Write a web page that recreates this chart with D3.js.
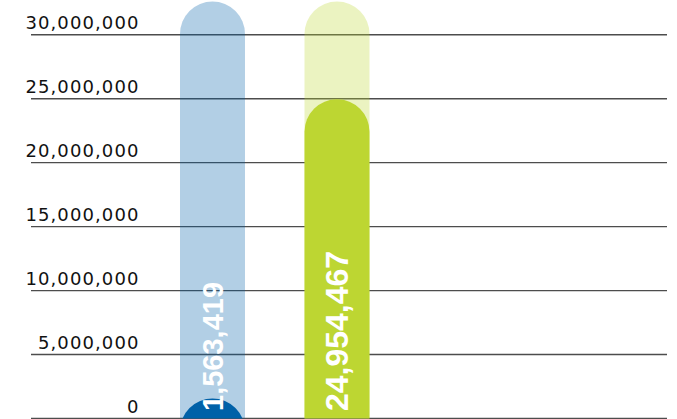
<!DOCTYPE html>
<html>
<head>
<meta charset="utf-8">
<script src="https://cdn.jsdelivr.net/npm/d3@7"></script>
<style>
  html, body { margin: 0; padding: 0; background: #fff; }
  svg { display: block; }
</style>
</head>
<body>
<svg id="chart" width="677" height="419"></svg>
<script>
// Values
const categories = ["A", "B"];
const values = [1563419, 24954467];
const tickValues = [0, 5000000, 10000000, 15000000, 20000000, 25000000, 30000000];
const trackMax = 32600000;

// Styling per bar
const barColors = { A: "#0061a8", B: "#bdd632" };
const labelSizes = { A: 29, B: 32 };

const width = 677, height = 419;
const svg = d3.select("#chart");

const y = d3.scaleLinear().domain([0, trackMax]).range([418.5, 1.5]);
const x = d3.scaleBand().domain(categories)
  .range([117.75, 431.75]).paddingInner(0.478).paddingOuter(0.5);

const baseY = y(0);
const fmt = d3.format(",");

// Clip everything below the baseline so the rounded caps stay above it
svg.append("defs").append("clipPath").attr("id", "above-base")
  .append("rect").attr("x", 0).attr("y", 0).attr("width", width).attr("height", baseY);

// Gridlines
svg.append("g").selectAll("line").data(tickValues).join("line")
  .attr("x1", 31).attr("x2", 667)
  .attr("y1", d => y(d)).attr("y2", d => y(d))
  .attr("stroke", "#4d4d4d").attr("stroke-width", 1.4);

// Tick labels, right-aligned above each gridline
svg.append("g").selectAll("text").data(tickValues).join("text")
  .attr("x", 139.5).attr("y", d => y(d) - 6)
  .attr("text-anchor", "end")
  .attr("font-family", "DejaVu Sans, sans-serif")
  .attr("font-size", 18)
  .attr("letter-spacing", 1.1)
  .attr("fill", "#111")
  .text(d => fmt(d));

// Pill-shaped bar: rounded top, extended below the baseline and clipped
function pill(x0, w, top) {
  const r = w / 2;
  const bottom = baseY + r;
  return `M${x0},${bottom}V${top + r}A${r},${r} 0 0 1 ${x0 + w},${top + r}V${bottom}Z`;
}

const bars = categories.map((c, i) => ({ cat: c, value: values[i] }));
const g = svg.append("g").attr("clip-path", "url(#above-base)");

// Pale tracks
g.selectAll("path.track").data(bars).join("path")
  .attr("class", "track")
  .attr("d", d => pill(x(d.cat), x.bandwidth(), y(trackMax)))
  .attr("fill", d => barColors[d.cat])
  .attr("fill-opacity", 0.3);

// Value bars
g.selectAll("path.value").data(bars).join("path")
  .attr("class", "value")
  .attr("d", d => pill(x(d.cat), x.bandwidth(), y(d.value)))
  .attr("fill", d => barColors[d.cat]);

// Value labels, rotated, reading bottom to top
svg.append("g").selectAll("text").data(bars).join("text")
  .attr("transform", d => {
    const s = labelSizes[d.cat];
    const cx = x(d.cat) + x.bandwidth() / 2 + 0.358 * s;
    return `translate(${cx},${baseY - 7.5}) rotate(-90)`;
  })
  .attr("font-family", "Liberation Sans, Arial, sans-serif")
  .attr("font-weight", "bold")
  .attr("font-size", d => labelSizes[d.cat])
  .attr("fill", "#fff")
  .text(d => fmt(d.value));
</script>
</body>
</html>
